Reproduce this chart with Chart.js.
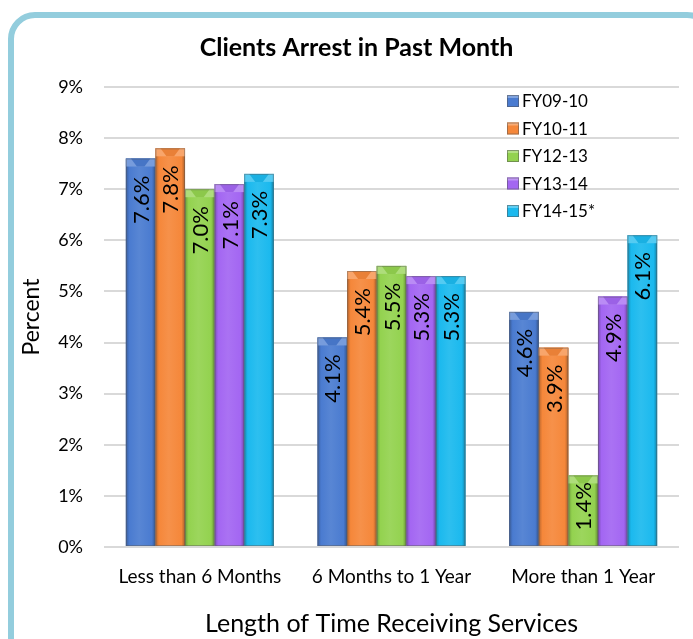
<!DOCTYPE html>
<html>
<head>
<meta charset="utf-8">
<script src="https://cdn.jsdelivr.net/npm/chart.js@4.4.1/dist/chart.umd.min.js"></script>
<style>
  html, body { margin: 0; padding: 0; background: #fff; }
  canvas { display: block; }
</style>
</head>
<body>
<canvas id="chart" width="693" height="639"></canvas>
<script>
const categories = ["Less than 6 Months", "6 Months to 1 Year", "More than 1 Year"];
const seriesNames = ["FY09-10", "FY10-11", "FY12-13", "FY13-14", "FY14-15*"];
const fy0910 = [7.6, 4.1, 4.6];
const fy1011 = [7.8, 5.4, 3.9];
const fy1213 = [7.0, 5.5, 1.4];
const fy1314 = [7.1, 5.3, 4.9];
const fy1415 = [7.3, 5.3, 6.1];
const seriesColors = ["#4a7bd0", "#f5873a", "#93d24f", "#a366f2", "#1bb9ee"];

const FONT = "Lato, 'Open Sans', sans-serif";

function shade(hex, f) {
  const n = parseInt(hex.slice(1), 16);
  let r = (n >> 16) & 255, g = (n >> 8) & 255, b = n & 255;
  if (f < 0) {
    r = Math.round(r * (1 + f)); g = Math.round(g * (1 + f)); b = Math.round(b * (1 + f));
  } else {
    r = Math.round(r + (255 - r) * f); g = Math.round(g + (255 - g) * f); b = Math.round(b + (255 - b) * f);
  }
  return `rgb(${r},${g},${b})`;
}

// rounded light blue frame behind everything
const framePlugin = {
  id: "frame",
  beforeDraw(chart) {
    const ctx = chart.ctx;
    ctx.save();
    ctx.fillStyle = "#fff";
    ctx.fillRect(0, 0, chart.width, chart.height);
    ctx.strokeStyle = "#93cddd";
    ctx.lineWidth = 6;
    ctx.beginPath();
    ctx.roundRect(11, 15, 700, 650, 24);
    ctx.stroke();
    ctx.restore();
  }
};

// repaint each bar with a bevelled look, then write its value label
const bevelPlugin = {
  id: "bevel",
  afterDatasetsDraw(chart) {
    const ctx = chart.ctx;
    chart.data.datasets.forEach((ds, di) => {
      const meta = chart.getDatasetMeta(di);
      const col = seriesColors[di];
      meta.data.forEach((bar, i) => {
        const w = bar.width;
        const left = bar.x - w / 2;
        const right = bar.x + w / 2;
        const top = bar.y;
        const base = bar.base;
        ctx.save();
        const g = ctx.createLinearGradient(left, 0, right, 0);
        g.addColorStop(0, shade(col, -0.25));
        g.addColorStop(0.12, col);
        g.addColorStop(0.45, shade(col, 0.08));
        g.addColorStop(0.88, col);
        g.addColorStop(1, shade(col, -0.3));
        ctx.fillStyle = g;
        ctx.fillRect(left, top, w, base - top);
        // top cap
        ctx.fillStyle = shade(col, 0.25);
        ctx.fillRect(left, top, w, 8);
        ctx.fillStyle = shade(col, -0.05);
        ctx.beginPath();
        ctx.moveTo(left + 5, top);
        ctx.lineTo(right - 5, top);
        ctx.lineTo(right - 11, top + 8);
        ctx.lineTo(left + 11, top + 8);
        ctx.closePath();
        ctx.fill();
        ctx.strokeStyle = "rgba(90,90,90,0.45)";
        ctx.lineWidth = 1;
        ctx.strokeRect(left + 0.5, top + 0.5, w - 1, base - top - 1);

        // value label, rotated, near the top
        const txt = ds.data[i].toFixed(1) + "%";
        ctx.font = `22px ${FONT}`;
        const tw = ctx.measureText(txt).width;
        const h = base - top;
        const gap = Math.min(17, (h - tw) * 0.3);
        ctx.translate(bar.x, top + gap);
        ctx.rotate(-Math.PI / 2);
        ctx.fillStyle = "#000";
        ctx.textAlign = "right";
        ctx.textBaseline = "middle";
        ctx.fillText(txt, 0, 1);
        ctx.restore();
      });
    });
  },
  afterDraw(chart) {
    // legend in the top right of the plot
    const ctx = chart.ctx;
    ctx.save();
    ctx.font = `17px ${FONT}`;
    ctx.textBaseline = "middle";
    ctx.textAlign = "left";
    chart.data.datasets.forEach((ds, di) => {
      const y = 101 + di * 27.5;
      const col = seriesColors[di];
      ctx.fillStyle = col;
      ctx.fillRect(507, y - 6, 12, 12);
      ctx.fillStyle = shade(col, 0.3);
      ctx.fillRect(507, y - 6, 12, 3);
      ctx.strokeStyle = "rgba(80,80,80,0.5)";
      ctx.strokeRect(507.5, y - 5.5, 11, 11);
      ctx.fillStyle = "#000";
      ctx.fillText(ds.label, 522, y + 1);
    });
    ctx.restore();
  }
};

const allSeries = [fy0910, fy1011, fy1213, fy1314, fy1415];

new Chart(document.getElementById("chart"), {
  type: "bar",
  data: {
    labels: categories,
    datasets: allSeries.map((vals, i) => ({
      label: seriesNames[i],
      data: vals,
      backgroundColor: seriesColors[i],
      borderWidth: 0,
      categoryPercentage: 0.772,
      barPercentage: 1.0
    }))
  },
  options: {
    responsive: false,
    animation: false,
    layout: { padding: { left: 34, right: 14, top: 16, bottom: 0 } },
    plugins: {
      legend: { display: false },
      tooltip: { enabled: false },
      title: {
        display: true,
        text: "Clients Arrest in Past Month",
        color: "#000",
        font: { family: FONT, size: 25, weight: "bold" },
        padding: { top: 17, bottom: 24 }
      }
    },
    scales: {
      x: {
        grid: { display: false, drawTicks: false },
        border: { display: false },
        ticks: { color: "#000", font: { family: FONT, size: 19 }, padding: 18 },
        title: {
          display: true,
          text: "Length of Time Receiving Services",
          color: "#000",
          font: { family: FONT, size: 25 },
          padding: { top: 10, bottom: 0 }
        },
        afterFit(scale) { scale.height = 92; }
      },
      y: {
        min: 0,
        max: 9,
        ticks: {
          stepSize: 1,
          color: "#000",
          font: { family: FONT, size: 18 },
          padding: 21,
          callback: (v) => v + "%"
        },
        grid: { color: "#d9d9d9", lineWidth: 2, drawTicks: false },
        border: { display: false },
        title: {
          display: true,
          text: "Percent",
          color: "#000",
          font: { family: FONT, size: 23 },
          padding: { top: -16, bottom: 4 }
        },
        afterFit(scale) { scale.width = 70; }
      }
    }
  },
  plugins: [framePlugin, bevelPlugin]
});
</script>
</body>
</html>
